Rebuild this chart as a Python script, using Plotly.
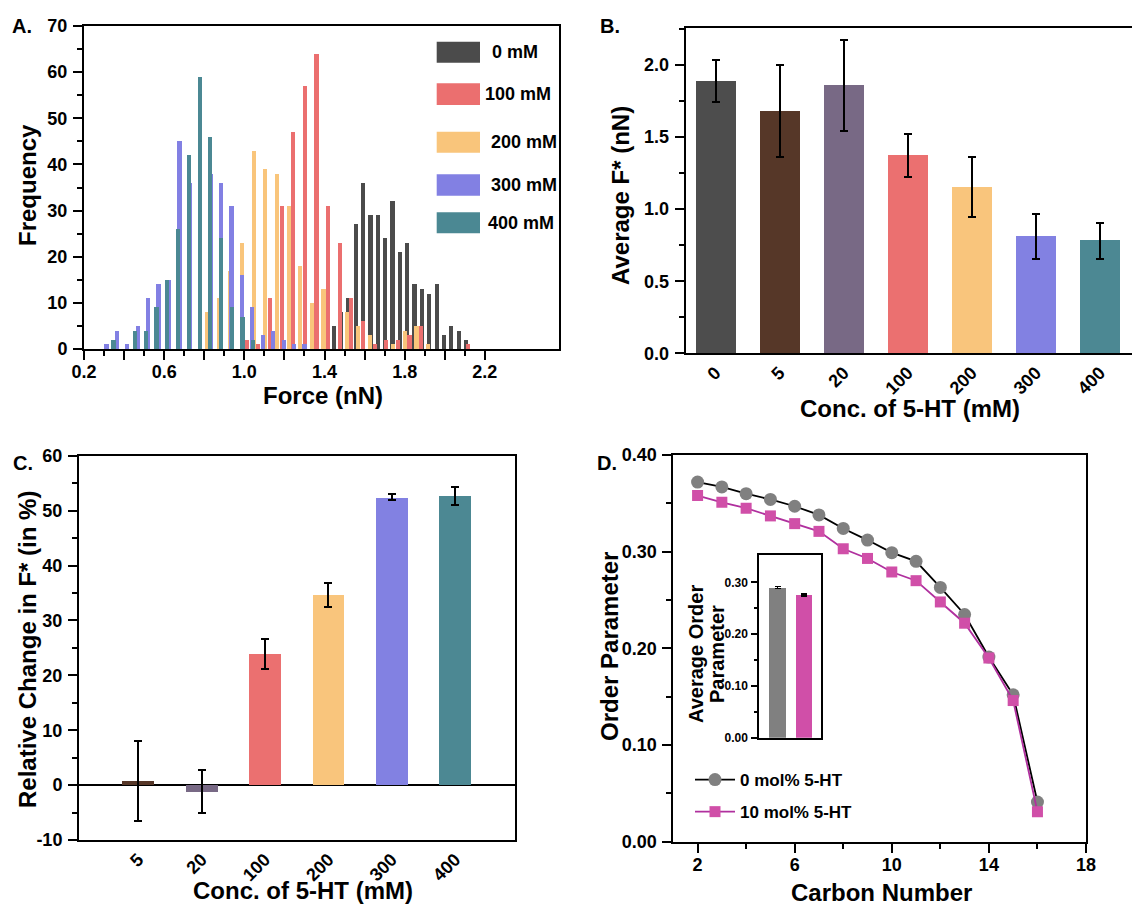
import plotly.graph_objects as go

W, H = 1140, 906
OFF = 8  # the page body adds an 8 px margin around the figure
FONT = "Liberation Sans, Arial, sans-serif"

def px(x):
    return (x - OFF) / W

def py(y):
    return 1 - (y - OFF) / H

# ---------------- Panel A: force histograms (bin centre in nN, counts) ----------------
force_0mM = [1.446, 1.482, 1.519, 1.556, 1.592, 1.629, 1.666, 1.703, 1.739, 1.776,
             1.813, 1.849, 1.886, 1.923, 1.960, 1.996, 2.033, 2.070, 2.106]
count_0mM = [5, 8, 11, 27, 36, 29, 29, 24, 32, 21, 23, 14, 13, 12, 14, 3, 5, 4, 2]

force_100mM = [1.012, 1.070, 1.128, 1.186, 1.244, 1.302, 1.360, 1.418, 1.476, 1.534,
               1.592, 1.650, 1.708, 1.766, 1.824, 1.882, 1.940, 1.998, 2.056, 2.114]
count_100mM = [2, 1, 11, 31, 47, 57, 64, 31, 23, 11, 6, 1, 2, 2, 3, 5, 0, 0, 0, 1]

force_200mM = [0.815, 0.873, 0.931, 0.989, 1.047, 1.105, 1.163, 1.221, 1.279, 1.337,
               1.395, 1.453, 1.511, 1.569, 1.627, 1.685, 1.743, 1.801, 1.859, 1.917]
count_200mM = [8, 11, 17, 23, 43, 39, 38, 31, 18, 10, 13, 0, 8, 5, 3, 0, 1, 4, 5, 1]

force_300mM = [0.312, 0.364, 0.416, 0.468, 0.520, 0.572, 0.624, 0.676, 0.728, 0.780,
               0.832, 0.884, 0.936, 0.988, 1.040, 1.092, 1.144, 1.196, 1.248, 1.300]
count_300mM = [1, 4, 1, 5, 11, 14, 15, 45, 36, 49, 38, 36, 31, 16, 9, 3, 4, 2, 1, 1]

force_400mM = [0.347, 0.401, 0.454, 0.508, 0.562, 0.616, 0.669, 0.723, 0.777, 0.830,
               0.884, 0.938, 0.991, 1.045]
count_400mM = [2, 0, 4, 4, 9, 15, 26, 42, 59, 46, 24, 9, 7, 2]

hist_labels = ["0 mM", "100 mM", "200 mM", "300 mM", "400 mM"]
hist_colors = ["#4b4b4b", "#eb6f6f", "#f9c57b", "#8280e3", "#4b8893"]

# ---------------- Panel B: average F* ----------------
conc_B = ["0", "5", "20", "100", "200", "300", "400"]
avgF = [1.886, 1.680, 1.858, 1.373, 1.153, 0.809, 0.781]
avgF_err = [0.145, 0.322, 0.314, 0.150, 0.205, 0.157, 0.126]
colors_B = ["#4d4d4d", "#563728", "#786985", "#eb7070", "#f9c57c", "#8281e2", "#4c8893"]

# ---------------- Panel C: relative change ----------------
conc_C = ["5", "20", "100", "200", "300", "400"]
rel_change = [0.8, -1.2, 23.9, 34.6, 52.4, 52.65]
rel_err = [7.3, 3.95, 2.7, 2.2, 0.55, 1.65]
colors_C = colors_B[1:]
ticks_C = [-10, 0, 10, 20, 30, 40, 50, 60]

# ---------------- Panel D: order parameter ----------------
carbon = [2, 3, 4, 5, 6, 7, 8, 9, 10, 11, 12, 13, 14, 15, 16]
order_0 = [0.372, 0.367, 0.360, 0.354, 0.347, 0.338, 0.324, 0.312, 0.299, 0.290,
           0.263, 0.235, 0.191, 0.152, 0.041]
order_10 = [0.358, 0.351, 0.345, 0.337, 0.329, 0.321, 0.303, 0.293, 0.279, 0.270,
            0.248, 0.226, 0.190, 0.146, 0.031]
series_D = ["0 mol% 5-HT", "10 mol% 5-HT"]

inset_cats = ["0 mol%", "10 mol%"]
inset_avg = [0.290, 0.276]
inset_err = [0.002, 0.002]
inset_colors = ["#808080", "#d04fa8"]

fig = go.Figure()

# Panel A bars
for f, c, lab, col in zip([force_0mM, force_100mM, force_200mM, force_300mM, force_400mM],
                          [count_0mM, count_100mM, count_200mM, count_300mM, count_400mM],
                          hist_labels, hist_colors):
    fig.add_trace(go.Bar(x=f, y=c, width=0.021, name=lab, marker=dict(color=col, line=dict(width=0)),
                         xaxis="x", yaxis="y", showlegend=False))

# Panel B
fig.add_trace(go.Bar(x=conc_B, y=avgF, width=0.62, marker=dict(color=colors_B, line=dict(width=0)),
                     error_y=dict(type="data", array=avgF_err, color="black", thickness=2, width=4),
                     xaxis="x2", yaxis="y2", showlegend=False))

# Panel C
fig.add_trace(go.Bar(x=conc_C, y=rel_change, width=0.5, marker=dict(color=colors_C, line=dict(width=0)),
                     error_y=dict(type="data", array=rel_err, color="black", thickness=2, width=4),
                     xaxis="x3", yaxis="y3", showlegend=False))

# Panel D
fig.add_trace(go.Scatter(x=carbon, y=order_0, mode="lines+markers", name=series_D[0],
                         legendgroup="g0",
                         line=dict(color="black", width=1.8),
                         marker=dict(symbol="circle", size=13, color="#808080"),
                         xaxis="x4", yaxis="y4"))
fig.add_trace(go.Scatter(x=carbon, y=order_10, mode="lines+markers", name=series_D[1],
                         legendgroup="g1",
                         line=dict(color="#b0309e", width=1.8),
                         marker=dict(symbol="square", size=11, color="#d04fa8"),
                         xaxis="x4", yaxis="y4"))

# Inset
fig.add_trace(go.Bar(x=inset_cats, y=inset_avg, width=0.62, marker=dict(color=inset_colors, line=dict(width=0)),
                     error_y=dict(type="data", array=inset_err, color="black", thickness=1.5, width=3),
                     xaxis="x5", yaxis="y5", showlegend=False))

tickfont = dict(family=FONT, size=18, color="black", weight="bold")

def axis_common(**kw):
    d = dict(showline=True, linecolor="black", linewidth=2, mirror=True, showgrid=False,
             zeroline=False, ticks="outside", tickcolor="black", tickwidth=2, ticklen=9,
             tickfont=tickfont, automargin=False)
    d.update(kw)
    return d

def minor_y(dt):
    return dict(dtick=dt, ticks="outside", ticklen=5, tickwidth=2, tickcolor="black", showgrid=False)

layout = dict(
    width=W, height=H, margin=dict(l=0, r=0, t=0, b=0), autosize=False,
    paper_bgcolor="white", plot_bgcolor="white", barmode="overlay", bargap=0,
    font=dict(family=FONT, color="black"),
    # A
    xaxis=axis_common(domain=[px(84), px(559)], anchor="y", range=[0.2, 2.57],
                      tickvals=[0.2, 0.4, 0.6, 0.8, 1.0, 1.2, 1.4, 1.6, 1.8, 2.0, 2.2],
                      ticktext=["0.2", "", "0.6", "", "1.0", "", "1.4", "", "1.8", "", "2.2"],
                      ticklabelstandoff=-4,
                      minor=dict(tickvals=[0.3, 0.5, 0.7, 0.9, 1.1, 1.3, 1.5, 1.7, 1.9, 2.1],
                                 ticks="outside", ticklen=5, tickwidth=2, tickcolor="black")),
    yaxis=axis_common(domain=[py(349), py(26)], anchor="x", range=[0, 70], dtick=10,
                      ticklabelstandoff=2, minor=minor_y(5)),
    # B
    xaxis2=axis_common(domain=[px(685.7), px(1135)], anchor="y2", type="category",
                       range=[-0.465, 6.546], ticks="", tickangle=-45),
    yaxis2=axis_common(domain=[py(353.3), py(28.3)], anchor="x2", range=[0, 2.254],
                       tickvals=[0, 0.5, 1.0, 1.5, 2.0], tickformat=".1f",
                       ticklabelstandoff=2, minor=minor_y(0.25)),
    # C
    xaxis3=axis_common(domain=[px(79), px(515)], anchor="y3", type="category",
                       range=[-0.935, 5.943], ticks="", tickangle=-45),
    yaxis3=axis_common(domain=[py(840), py(455.7)], anchor="x3", range=[-10, 60],
                       tickvals=ticks_C, ticktext=[str(v) for v in ticks_C],
                       ticklabelstandoff=2,
                       minor=minor_y(5), zeroline=True, zerolinecolor="black", zerolinewidth=1.5),
    # D
    xaxis4=axis_common(domain=[px(673.3), px(1086)], anchor="y4", range=[1, 18],
                       tickvals=[2, 6, 10, 14, 18], ticklabelstandoff=-3,
                       minor=dict(tickvals=[4, 8, 12, 16], ticks="outside", ticklen=5, tickwidth=2,
                                  tickcolor="black")),
    yaxis4=axis_common(domain=[py(841.7), py(455)], anchor="x4", range=[0, 0.40],
                       tickvals=[0, 0.1, 0.2, 0.3, 0.4], tickformat=".2f",
                       ticklabelstandoff=2, minor=minor_y(0.05)),
    # Inset
    xaxis5=axis_common(domain=[px(759), px(820.7)], anchor="y5", type="category",
                       range=[-0.70, 1.63], ticks="", showticklabels=False),
    yaxis5=axis_common(domain=[py(737.7), py(555)], anchor="x5", range=[0, 0.353],
                       tickvals=[0, 0.1, 0.2, 0.3], tickformat=".2f", ticklen=6, tickwidth=1.5,
                       linewidth=1.5, ticklabelstandoff=1,
                       tickfont=dict(family=FONT, size=12, color="black", weight="bold"),
                       minor=dict(tickvals=[0.05, 0.15, 0.25], ticks="outside", ticklen=3,
                                  tickwidth=1.5, tickcolor="black")),
    legend=dict(x=px(690), y=py(762), xanchor="left", yanchor="top", itemwidth=40,
                bgcolor="rgba(0,0,0,0)", font=dict(family=FONT, size=17, color="black", weight="bold"),
                tracegroupgap=7, itemclick=False),
)
fig.update_layout(**layout)

def text(txt, x, y, size, angle=0, anchor="center"):
    fig.add_annotation(text=txt, x=px(x), y=py(y), xref="paper", yref="paper", showarrow=False,
                       xanchor=anchor, yanchor="middle", textangle=angle,
                       font=dict(family=FONT, size=size, color="black", weight="bold"))

# Panel letters
for txt, x, y in [("A.", 22, 26), ("B.", 610, 26), ("C.", 23, 463), ("D.", 607, 463)]:
    text(txt, x, y, 20)

# Axis titles
text("Frequency", 27, 185, 24, angle=-90)
text("Force (nN)", 323, 395, 24)
text("Average F* (nN)", 621, 196, 24, angle=-90)
text("Conc. of 5-HT (mM)", 910, 408, 24)
text("Relative Change in F* (in %)", 27, 650, 24, angle=-90)
text("Conc. of 5-HT (mM)", 303, 890, 24)
text("Order Parameter", 609, 647, 24, angle=-90)
text("Carbon Number", 881, 892, 24)
text("Average Order", 696, 654, 20, angle=-90)
text("Parameter", 717, 654, 20, angle=-90)

# Panel A legend (large swatches)
sw_y = [(41.7, 62.7), (83.3, 105), (131.7, 152.7), (174.3, 195.7), (212.3, 233.3)]
txt_x = [490, 483, 489, 489, 486]
for (y0, y1), lab, col, tx in zip(sw_y, hist_labels, hist_colors, txt_x):
    fig.add_shape(type="rect", xref="paper", yref="paper", x0=px(436.7), x1=px(480),
                  y0=py(y1), y1=py(y0), fillcolor=col, line=dict(width=0))
    text(lab, tx, (y0 + y1) / 2, 18, anchor="left")

fig.write_html("out.html")
